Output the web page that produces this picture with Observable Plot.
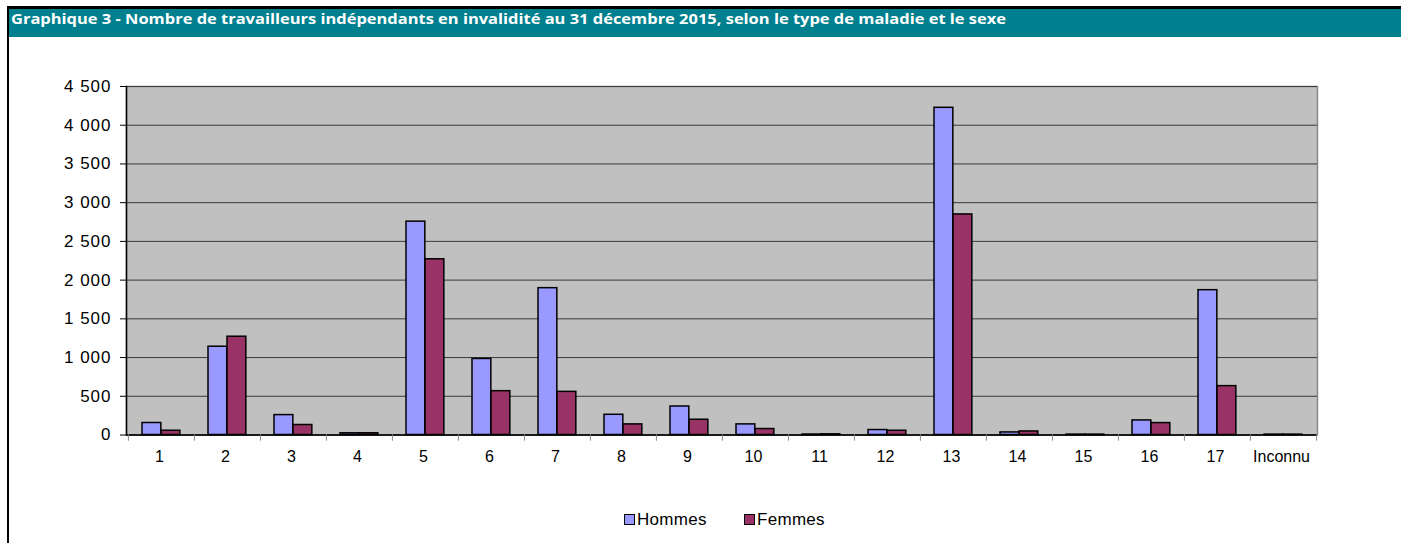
<!DOCTYPE html>
<html><head><meta charset="utf-8">
<script src="https://cdn.jsdelivr.net/npm/d3@7"></script>
<script src="https://cdn.jsdelivr.net/npm/@observablehq/plot@0.6"></script>
<style>
body{margin:0;background:#fff;width:1401px;height:543px;overflow:hidden;position:relative;font-family:"Liberation Sans",Arial,sans-serif}
#topline{position:absolute;left:7px;top:6px;width:1394px;height:3px;background:#000}
#leftline{position:absolute;left:7px;top:6px;width:2px;height:537px;background:#000}
#title{position:absolute;left:9px;top:9px;width:1392px;height:28px;background:#00808E}
#title span{position:absolute;left:2px;top:0;line-height:27px;color:#fff;font:bold 14.5px "Open Sans";white-space:nowrap;transform-origin:0 50%}
#chart{position:absolute;left:0;top:37px}
.leg{position:absolute;top:510px;font:17px "Liberation Sans",Arial,sans-serif;letter-spacing:0.3px;color:#000;white-space:nowrap}
.leg i{display:inline-block;width:9px;height:9px;border:1.5px solid #000;vertical-align:0px;margin-right:2px}
#chart svg g[aria-label="y-axis tick label"] text{letter-spacing:1px}
</style></head>
<body>
<div id="topline"></div><div id="leftline"></div>
<div id="title"><span id="ttext">Graphique 3 - Nombre de travailleurs indépendants en invalidité au 31 décembre 2015, selon le type de maladie et le sexe</span></div>
<div id="chart"></div>
<div class="leg" style="left:624px"><i style="background:#9999FF"></i>Hommes</div>
<div class="leg" style="left:744px"><i style="background:#993366"></i>Femmes</div>
<script>
const categories = ["1","2","3","4","5","6","7","8","9","10","11","12","13","14","15","16","17","Inconnu"];
const hommes = [155,1140,257,22,2755,982,1896,261,368,137,6,64,4225,33,5,188,1870,5];
const femmes = [55,1269,129,22,2269,566,557,137,197,77,9,55,2848,46,5,154,631,5];
const yTicks = [0,500,1000,1500,2000,2500,3000,3500,4000,4500];
const seriesNames = ["Hommes","Femmes"];
const seriesColors = ["#9999FF","#993366"];

const W = 1401, H = 470, ml = 126, mr = 84, mt = 49, mb = 72.5;
const bw = (W - ml - mr) / categories.length;
const rowsH = categories.map((c,i)=>({cat:c, v:hommes[i]}));
const rowsF = categories.map((c,i)=>({cat:c, v:femmes[i]}));
const fmt = d => d3.format(",")(d).replace(/,/g, " ");

const chart = Plot.plot({
  width: W, height: H,
  marginLeft: ml, marginRight: mr, marginTop: mt, marginBottom: mb,
  style: {fontFamily: "'Liberation Sans', Arial, sans-serif", fontSize: "16px", color: "#000", background: "transparent"},
  x: {domain: categories, padding: 0, label: null},
  y: {domain: [0, 4500], label: null},
  marks: [
    Plot.frame({fill: "#C0C0C0", stroke: "#8a8a8a", strokeWidth: 1.5}),
    Plot.gridY(yTicks, {stroke: "#3a3a3a", strokeOpacity: 1, strokeWidth: 1}),
    Plot.barY(rowsH, {x: "cat", y: "v", fill: seriesColors[0], stroke: "#000", strokeWidth: 1.5, insetLeft: 14, insetRight: bw - 33}),
    Plot.barY(rowsF, {x: "cat", y: "v", fill: seriesColors[1], stroke: "#000", strokeWidth: 1.5, insetLeft: 33, insetRight: bw - 52}),
    Plot.ruleY([0], {stroke: "#000", strokeWidth: 1.5}),
    Plot.frame({anchor: "left", stroke: "#000", strokeWidth: 1.5}),
    Plot.axisY(yTicks, {tickFormat: fmt, tickSize: 6, tickPadding: 9, fontSize: 17, stroke: "#000"}),
    Plot.axisX({tickSize: 0, tickPadding: 16, fontSize: 16, dx: -2}),
    Plot.ruleX(categories, {x: d => d, dx: -bw/2, y1: 0, y2: -80, stroke: "#8a8a8a", strokeWidth: 1}),
    Plot.ruleX([categories[categories.length-1]], {x: d => d, dx: bw/2, y1: 0, y2: -80, stroke: "#8a8a8a", strokeWidth: 1})
  ]
});
document.getElementById("chart").appendChild(chart);
const t = document.getElementById("ttext");
const w = t.getBoundingClientRect().width;
t.style.transform = `scaleX(${995 / w})`;
</script>
</body></html>
